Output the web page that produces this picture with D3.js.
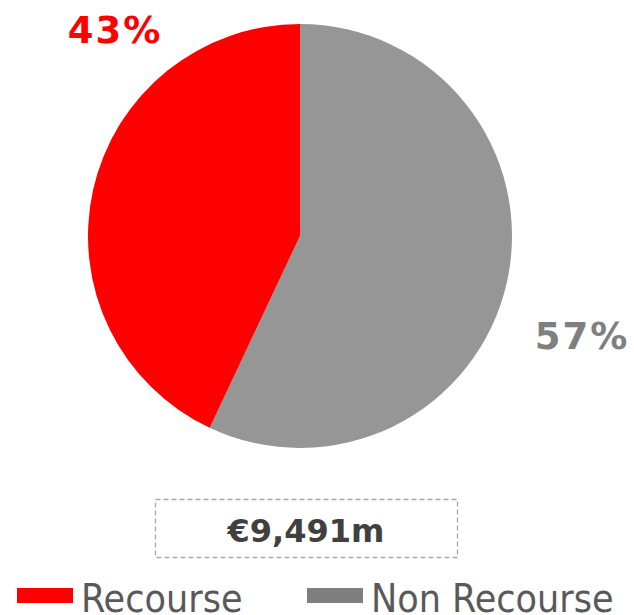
<!DOCTYPE html>
<html>
<head>
<meta charset="utf-8">
<script src="https://cdn.jsdelivr.net/npm/d3@7"></script>
<style>
  html, body { margin: 0; padding: 0; background: #fff; }
  svg { display: block; }
</style>
</head>
<body>
<svg id="chart" width="634" height="615"></svg>
<script>
// Portfolio split by recourse type
const categories = ["Recourse", "Non Recourse"];
const shares = [43, 57];
const totalLabel = "€9,491m";

const sliceColors = ["#ff0000", "#969696"];
const labelColors = ["#ff0000", "#7f7f7f"];
const legendColors = ["#ff0000", "#7f7f7f"];

const svg = d3.select("#chart");
const cx = 300, cy = 236, r = 212;

// Gray slice runs clockwise from 12 o'clock, red fills the rest
const data = categories.map((c, i) => ({ name: c, value: shares[i], i }));
const pie = d3.pie()
  .value(d => d.value)
  .sort(null)
  .startAngle(0)
  .endAngle(2 * Math.PI);
const arcs = pie([data[1], data[0]]);
const arc = d3.arc().innerRadius(0).outerRadius(r);

const g = svg.append("g").attr("transform", `translate(${cx},${cy})`);
g.selectAll("path")
  .data(arcs)
  .join("path")
  .attr("d", arc)
  .attr("fill", d => sliceColors[d.data.i]);

// Percentage labels
const labelPos = [[115, 43], [582, 349]];
svg.selectAll("text.pct")
  .data(data)
  .join("text")
  .attr("class", "pct")
  .attr("x", (d, i) => labelPos[i][0])
  .attr("y", (d, i) => labelPos[i][1])
  .attr("text-anchor", "middle")
  .attr("font-family", "DejaVu Sans, Verdana, sans-serif")
  .attr("font-weight", "bold")
  .attr("font-size", 37)
  .attr("letter-spacing", 2)
  .attr("fill", (d, i) => labelColors[i])
  .text(d => d.value + "%");

// Total box
svg.append("rect")
  .attr("x", 155.5).attr("y", 499.5)
  .attr("width", 302).attr("height", 58)
  .attr("fill", "none")
  .attr("stroke", "#a6a6a6")
  .attr("stroke-width", 1.3)
  .attr("stroke-dasharray", "5,3");
svg.append("text")
  .attr("x", 306).attr("y", 542)
  .attr("text-anchor", "middle")
  .attr("font-family", "DejaVu Sans, Verdana, sans-serif")
  .attr("font-weight", "bold")
  .attr("font-size", 32)
  .attr("fill", "#404040")
  .text(totalLabel);

// Legend
const legendX = [17, 307];
const lg = svg.selectAll("g.legend")
  .data(data)
  .join("g")
  .attr("class", "legend")
  .attr("transform", (d, i) => `translate(${legendX[i]},0)`);
lg.append("rect")
  .attr("x", 0).attr("y", 588)
  .attr("width", 56).attr("height", 15)
  .attr("fill", (d, i) => legendColors[i]);
lg.append("text")
  .attr("x", 64).attr("y", 612)
  .attr("font-family", "DejaVu Sans Condensed, DejaVu Sans, sans-serif")
  .attr("font-stretch", "condensed")
  .attr("font-size", 39)
  .attr("fill", "#595959")
  .text(d => d.name);
</script>
</body>
</html>
